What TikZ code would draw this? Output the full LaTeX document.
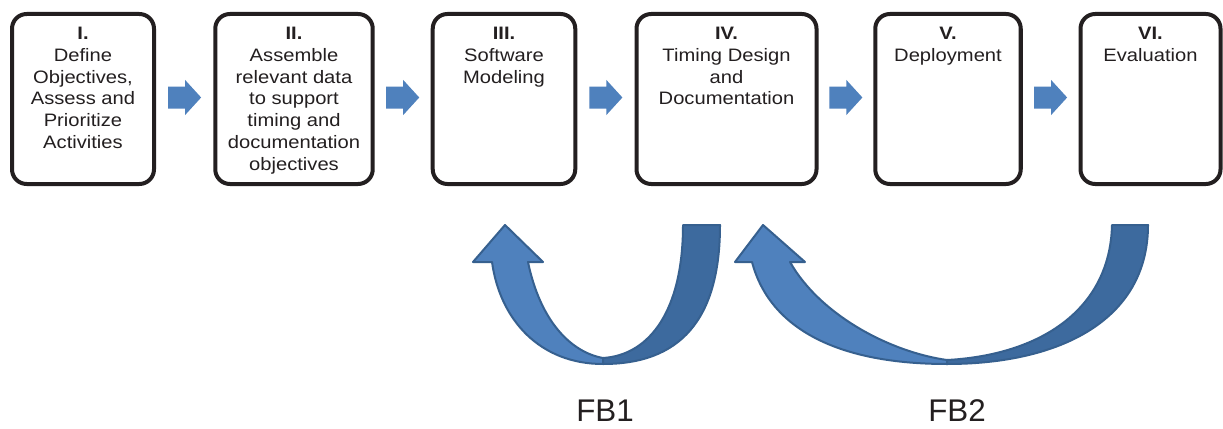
\documentclass[tikz,border=0pt]{standalone}
\usepackage{fontspec}
\setmainfont{Liberation Sans}[FakeStretch=1.12]
\newfontfamily\fbfont{Liberation Sans}
\usetikzlibrary{calc}
\definecolor{arrowblue}{HTML}{4F81BD}
\definecolor{darkblue}{HTML}{3D6A9E}
\definecolor{edgeblue}{HTML}{36608F}
\definecolor{txt}{HTML}{231F20}
\begin{document}
\begin{tikzpicture}[x=0.75pt,y=-0.75pt,
  stage/.style={draw=txt, line width=3pt, rounded corners=11pt, fill=white, minimum height=127.5pt, inner sep=0pt},
  stagetext/.style={anchor=north, inner sep=0pt, align=center, text=txt, font=\fontsize{13.5}{16.3}\selectfont},
  fblabel/.style={font=\fbfont\fontsize{23.5}{28}\selectfont, text=txt, anchor=base, inner sep=0pt},
  blockarrow/.pic={\fill[arrowblue] (-16.5,-11) -- (0.5,-11) -- (0.5,-17.5) -- (16.5,0) -- (0.5,17.5) -- (0.5,11) -- (-16.5,11) -- cycle;},
  band/.style={draw=edgeblue, line width=1.5pt, line join=round}
]
\fill[white] (0,0) rectangle (1223,428);
\useasboundingbox (0,0) rectangle (1223,428);

% stage boxes
\node[stage, minimum width=106.5pt] (b1) at (83,99) {};
\node[stage, minimum width=118.1pt] (b2) at (294,99) {};
\node[stage, minimum width=106.9pt] (b3) at (504,99) {};
\node[stage, minimum width=135pt]   (b4) at (726.5,99) {};
\node[stage, minimum width=109.1pt] (b5) at (948,99) {};
\node[stage, minimum width=105pt]   (b6) at (1150.5,99) {};

% stage texts
\node[stagetext] (t1) at (83,27) {\textbf{I.}\\Define\\Objectives,\\Assess and\\Prioritize\\Activities};
\node[stagetext] (t2) at (294,27) {\textbf{II.}\\Assemble\\relevant data\\to support\\timing and\\documentation\\objectives};
\node[stagetext] (t3) at (504,27) {\textbf{III.}\\Software\\Modeling};
\node[stagetext] (t4) at (726.5,27) {\textbf{IV.}\\Timing Design\\and\\Documentation};
\node[stagetext] (t5) at (948,27) {\textbf{V.}\\Deployment};
\node[stagetext] (t6) at (1150.5,27) {\textbf{VI.}\\Evaluation};

% block arrows between stages
\pic (a12) at ($(b1.east)!0.5!(b2.west)+(0,-1.5)$) {blockarrow};
\pic (a23) at ($(b2.east)!0.5!(b3.west)+(0,-1.5)$) {blockarrow};
\pic (a34) at ($(b3.east)!0.5!(b4.west)+(0,-1.5)$) {blockarrow};
\pic (a45) at ($(b4.east)!0.5!(b5.west)+(0,-1.5)$) {blockarrow};
\pic (a56) at ($(b5.east)!0.5!(b6.west)+(0,-1.5)$) {blockarrow};

% feedback arrow FB1
\draw[band, fill=arrowblue] (603,364) .. controls (540,364) and (500,320) .. (492,262)
  -- (473,262) -- (505,225) -- (543,262) -- (528,262)
  .. controls (540,320) and (570,352) .. (603,358) -- cycle;
\draw[band, fill=darkblue] (720,225) .. controls (720,320) and (680,364) .. (603,364)
  -- (603,358) .. controls (650,355) and (683,310) .. (683,225) -- cycle;

% feedback arrow FB2
\draw[band, fill=arrowblue] (947,364) .. controls (840,364) and (770,330) .. (752,262)
  -- (735,262) -- (763,225) -- (805,262) -- (790,262)
  .. controls (820,315) and (890,352) .. (947,360) -- cycle;
\draw[band, fill=darkblue] (1148,225) .. controls (1148,320) and (1060,364) .. (947,364)
  -- (947,360) .. controls (1040,355) and (1110,310) .. (1112,225) -- cycle;

% labels
\node[fblabel] (fb1) at (605,421) {FB1};
\node[fblabel] (fb2) at (957,421) {FB2};
\end{tikzpicture}
\end{document}
